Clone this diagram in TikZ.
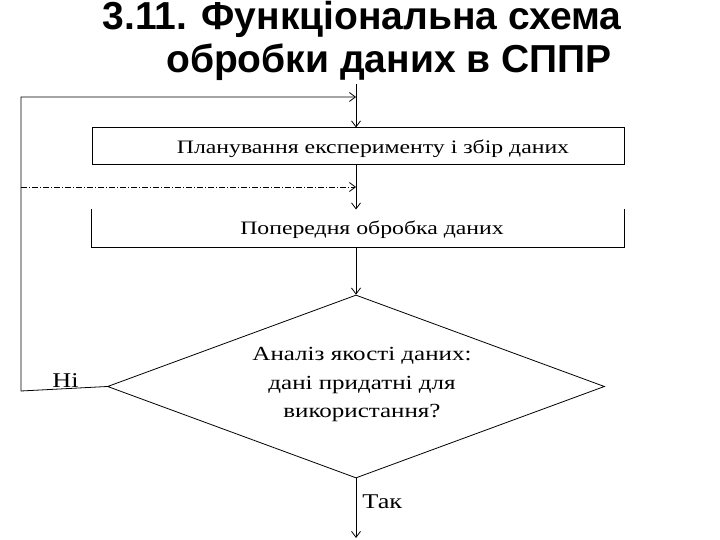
\documentclass[tikz,border=0pt]{standalone}
\usepackage{fontspec}
\setmainfont{Liberation Serif}
\newfontfamily\widefont[FakeStretch=1.25]{Liberation Serif}
\newfontfamily\titlefont{Liberation Sans}
\usetikzlibrary{arrows.meta,shapes.geometric}
\begin{document}
\begin{tikzpicture}[x=1pt,y=-1pt,line width=0.8pt,
  arr/.style={-{Straight Barb[length=6pt,width=9pt]}},
  ttl/.style={font=\titlefont\bfseries\fontsize{39}{45}\selectfont,inner sep=0pt,anchor=base},
  lbl/.style={font=\widefont\fontsize{19}{28.5}\selectfont,inner sep=0pt},
  dlbl/.style={font=\widefont\fontsize{20}{28.5}\selectfont,inner sep=0pt},
  slbl/.style={font=\widefont\fontsize{21}{25}\selectfont,inner sep=0pt},
  boxframe/.style={minimum width=532pt,minimum height=37pt,inner sep=0pt,line width=1pt},
  dashdotline/.style={dash pattern=on 6pt off 2pt on 1pt off 2pt}]
\useasboundingbox (0,0) rectangle (720,540);
% title
\node[ttl] (title1) at (362,30) {3.11. Функціональна схема};
\node[ttl] (title2) at (389,73) {обробки даних в СППР};
% boxes
\node[draw,boxframe] (box1) at (358,146.5) {};
\node[lbl,anchor=base] (t1) at (373,154) {Планування експерименту і збір даних};
\node[boxframe] (box2) at (358,228.5) {};
\draw[line width=1pt] (box2.north west) -- (box2.south west) -- (box2.south east) -- (box2.north east);
\node[lbl,anchor=base] (t2) at (372,235) {Попередня обробка даних};
% decision
\node[draw,diamond,minimum width=497pt,minimum height=183pt,inner sep=0pt] (dec) at (356,386.5) {};
\node[dlbl,align=center] (t3) at (362,385) {Аналіз якості даних:\\дані придатні для\\використання?};
\node[slbl,anchor=base west] (no) at (52,387) {Ні};
\node[slbl,anchor=base west] (yes) at (362,508) {Так};
% coordinates
\coordinate (top) at (356,84);
\coordinate (j1) at (356,97);
\coordinate (lc) at (21,391);
\coordinate (dl) at (21,187);
\coordinate (j2) at (356,187);
\coordinate (end) at (356,538);
% connectors
\draw[arr] (top) -- (top |- box1.north);
\draw[arr] (dec.west) -- (lc) -- (lc |- j1) -- (j1);
\draw[arr,dashdotline] (dl) -- (j2);
\draw[arr] (box1.south -| top) -- (box2.north -| top);
\draw[arr] (box2.south -| top) -- (dec.north);
\draw[arr] (dec.south) -- (end);
\end{tikzpicture}
\end{document}
